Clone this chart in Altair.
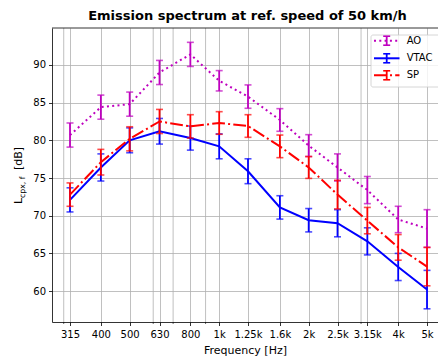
import altair as alt
import pandas as pd

# ---------------- data ----------------
freqs = [315, 400, 500, 630, 800, 1000, 1250, 1600, 2000, 2500, 3150, 4000, 5000]
freq_labels = ["315", "400", "500", "630", "800", "1k", "1.25k", "1.6k", "2k", "2.5k", "3.15k", "4k", "5k"]
minor_freqs = [300, 600, 700, 900, 3000]

ao_mean = [80.7, 84.4, 84.8, 89.0, 91.4, 87.9, 85.8, 82.7, 79.3, 76.4, 73.4, 69.5, 68.3]
ao_err = [1.6, 1.6, 1.6, 1.6, 1.6, 1.35, 1.55, 1.5, 1.45, 1.8, 1.8, 1.75, 2.5]

vtac_mean = [72.1, 76.4, 80.0, 81.2, 80.3, 79.2, 75.9, 71.1, 69.4, 69.0, 66.6, 63.2, 60.2]
vtac_err = [1.6, 1.8, 1.65, 1.7, 1.6, 1.65, 1.65, 1.55, 1.55, 1.8, 1.8, 1.8, 2.55]

sp_mean = [72.8, 77.1, 80.2, 82.5, 81.85, 82.3, 81.9, 79.2, 76.4, 72.8, 69.35, 65.8, 63.25]
sp_err = [1.55, 1.7, 1.6, 1.6, 1.55, 1.5, 1.5, 1.5, 1.45, 1.9, 1.75, 1.7, 2.55]

y_ticks = [60, 65, 70, 75, 80, 85, 90]

series_names = ["AO", "VTAC", "SP"]
series_colors = ["#bf00bf", "#0000ff", "#ff0000"]
series_dashes = [[2, 3.3], None, [12.8, 3.2, 2, 3.2]]

# ---------------- layout ----------------
W, H = 386, 294
FONT = "DejaVu Sans"

xscale = alt.Scale(type="log", domain=[274, 5444], nice=False)
yscale = alt.Scale(domain=[55.9, 94.9], nice=False, zero=False)

label_expr = ""
for f, l in zip(freqs, freq_labels):
    label_expr += f"datum.value == {f} ? '{l}' : "
label_expr += "''"

x_axis = alt.Axis(values=freqs, labelExpr=label_expr, title="Frequency [Hz]", grid=True,
                  tickSize=3.5, labelPadding=3.5, labelFontSize=10, titleFontSize=11,
                  titleFontWeight="normal", titlePadding=5, labelFlush=False, labelOverlap=False)
y_axis = alt.Axis(values=y_ticks, title=None, grid=True, tickSize=3.5, labelPadding=3,
                  labelFontSize=10, labelOverlap=False)


def X(field="freq"):
    return alt.X(f"{field}:Q", scale=xscale, axis=x_axis)


def Y(field):
    return alt.Y(f"{field}:Q", scale=yscale, axis=y_axis, title=None)


one = alt.Data(values=[{"a": 0}])

layers = []

# minor grid lines and minor ticks
minor_df = pd.DataFrame({"freq": minor_freqs})
layers.append(alt.Chart(minor_df).mark_rule(color="#b0b0b0", strokeWidth=0.8).encode(
    x=X(), y=alt.value(0), y2=alt.value(H)))
layers.append(alt.Chart(minor_df).mark_rule(color="black", strokeWidth=0.6).encode(
    x=X(), y=alt.value(H), y2=alt.value(H + 2)))

means = [ao_mean, vtac_mean, sp_mean]
errs = [ao_err, vtac_err, sp_err]
for name, color, dash, mean, err in zip(series_names, series_colors, series_dashes, means, errs):
    df = pd.DataFrame({
        "freq": freqs,
        "mean": mean,
        "lo": [m - e for m, e in zip(mean, err)],
        "hi": [m + e for m, e in zip(mean, err)],
    })
    base = alt.Chart(df)
    line_kw = dict(color=color, strokeWidth=2)
    if dash is not None:
        line_kw["strokeDash"] = dash
    layers.append(base.mark_line(**line_kw).encode(x=X(), y=Y("mean")))
    layers.append(base.mark_rule(color=color, strokeWidth=1.8).encode(
        x=X(), y=Y("lo"), y2="hi:Q"))
    layers.append(base.mark_tick(color=color, orient="horizontal", size=7, thickness=1.6).encode(
        x=X(), y=Y("lo")))
    layers.append(base.mark_tick(color=color, orient="horizontal", size=7, thickness=1.6).encode(
        x=X(), y=Y("hi")))

# top spine
layers.append(alt.Chart(one).mark_rule(color="black", strokeWidth=0.8).encode(
    x=alt.value(0), x2=alt.value(W), y=alt.value(0)))

# legend box
layers.append(alt.Chart(one).mark_rect(fill="white", fillOpacity=0.8, stroke="#cccccc",
                                       strokeWidth=0.8, cornerRadius=2).encode(
    x=alt.value(319), x2=alt.value(392), y=alt.value(7), y2=alt.value(59)))
row_y = [12.7, 30.3, 47.3]
for name, color, dash, ry in zip(series_names, series_colors, series_dashes, row_y):
    kw = dict(color=color, strokeWidth=2)
    if dash is not None:
        kw["strokeDash"] = dash
    layers.append(alt.Chart(one).mark_rule(**kw).encode(
        x=alt.value(322), x2=alt.value(347.5), y=alt.value(ry)))
    layers.append(alt.Chart(one).mark_rule(color=color, strokeWidth=1.8).encode(
        x=alt.value(334.7), y=alt.value(ry - 4.5), y2=alt.value(ry + 4.5)))
    for dy in (-4.5, 4.5):
        layers.append(alt.Chart(one).mark_rule(color=color, strokeWidth=1.6).encode(
            x=alt.value(331.2), x2=alt.value(338.2), y=alt.value(ry + dy)))
    layers.append(alt.Chart(one).mark_text(text=name, font=FONT, fontSize=10, align="left",
                                           baseline="middle", color="black").encode(
        x=alt.value(354.7), y=alt.value(ry)))

# y-axis label with subscript
layers.append(alt.Chart(one).mark_text(text="L", font=FONT, fontSize=11, angle=270, align="left",
                                       baseline="alphabetic", color="black").encode(
    x=alt.value(-30), y=alt.value(176)))
layers.append(alt.Chart(one).mark_text(text="cpx, f", font=FONT, fontSize=7.7, angle=270, align="left",
                                       baseline="alphabetic", color="black").encode(
    x=alt.value(-27.3), y=alt.value(169.9)))
layers.append(alt.Chart(one).mark_text(text="[dB]", font=FONT, fontSize=11, angle=270, align="left",
                                       baseline="alphabetic", color="black").encode(
    x=alt.value(-30), y=alt.value(142)))

chart = alt.layer(*layers).properties(
    width=W, height=H,
    title=alt.TitleParams("Emission spectrum at ref. speed of 50 km/h", font=FONT, fontSize=13,
                          fontWeight="bold", color="black", anchor="middle", frame="group",
                          dx=2.5, offset=5),
    autosize=alt.AutoSizeParams(type="none"),
    padding={"left": 52, "top": 28, "right": 0, "bottom": 34},
    background="white",
).configure_view(stroke=None).configure_axis(
    labelFont=FONT, titleFont=FONT, labelColor="black", titleColor="black",
    domainColor="black", tickColor="black", domainWidth=0.8, tickWidth=0.8,
    gridColor="#b0b0b0", gridWidth=0.8,
)

chart.save("out.html", embed_options={"renderer": "svg", "actions": False})
